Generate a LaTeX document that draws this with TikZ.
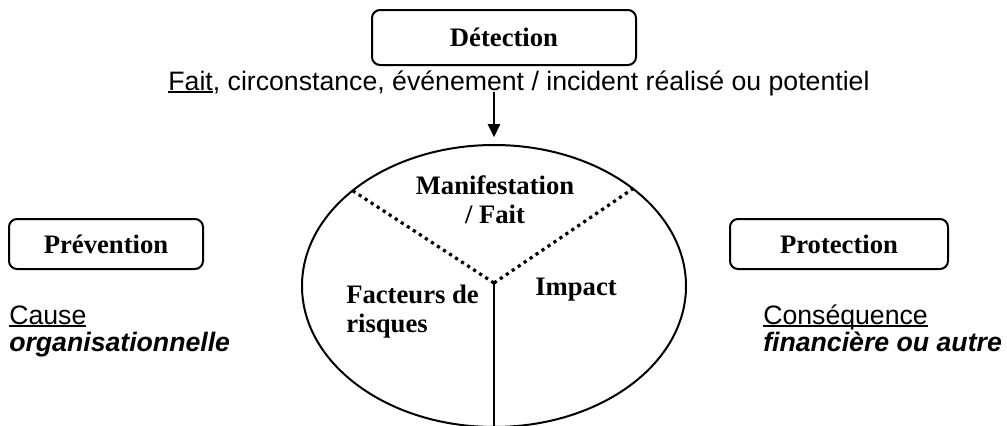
\documentclass[tikz,border=0pt]{standalone}
\usepackage{fontspec}
\setmainfont{Liberation Serif}
\setsansfont{Liberation Sans}
\usetikzlibrary{shapes.geometric,arrows.meta}

% underline set close under the baseline
\newcommand\ulword[1]{\setbox0\hbox{#1}\rlap{\rule[-2.4pt]{\wd0}{1.3pt}}\box0}

\tikzset{
  phase/.style={draw, line width=1.5pt, rounded corners=6pt,
    font=\fontsize{20}{24}\selectfont\bfseries, inner sep=0pt},
  zone/.style={font=\fontsize{20}{21.5}\selectfont\bfseries, inner sep=0pt},
  note/.style={font=\fontsize{20}{20.25}\selectfont\sffamily, inner sep=0pt, align=left},
  divider/.style={line width=2.4pt, dash pattern=on 2.4pt off 3pt},
}

\begin{document}
\begin{tikzpicture}[x=0.75pt, y=-0.75pt]
  \useasboundingbox (0,0) rectangle (1007,425);

  % three phases of the risk treatment
  \node[phase, minimum width=198pt, minimum height=41.25pt] (detect) at (504,37.5) {Détection};
  \node[phase, minimum width=145.5pt, minimum height=37.5pt] (prev) at (106,244) {Prévention};
  \node[phase, minimum width=163.5pt, minimum height=37.5pt] (prot) at (839,244) {Protection};

  % description line under the detection phase
  \node[note, anchor=base] (fact) at (519,90)
    {\ulword{Fait}, circonstance, événement / incident réalisé ou potentiel};

  % the risk itself
  \node[draw, line width=1.5pt, ellipse, minimum width=288pt, minimum height=211.5pt,
        inner sep=0pt] (risk) at (494,286) {};
  \coordinate (hub) at (494,283);
  \coordinate (arrowstart) at (494,92);

  \draw[line width=2.2pt, -{Triangle[width=9pt,length=10pt]}, shorten >=5pt]
    (arrowstart) -- (risk.north);

  \draw[divider] (hub) -- (risk.146);
  \draw[divider] (hub) -- (risk.35);
  \draw[line width=1.5pt] (hub) -- (risk.south);

  % sectors of the risk (anchored on the baseline of their last line)
  \node[zone, align=center, anchor=base] (manif) at (495,223) {Manifestation\\/ Fait};
  \node[zone, align=left, anchor=base west] (factors) at (346,332) {Facteurs de\\risques};
  \node[zone, anchor=base west] (impact) at (535,295) {Impact};

  % causes and consequences
  \node[note, anchor=base west] (cause) at (9,351)
    {\ulword{Cause}\\\textbf{\textit{organisationnelle}}};
  \node[note, anchor=base west] (cons) at (763,351)
    {\ulword{Conséquence}\\\textbf{\textit{financière ou autre}}};
\end{tikzpicture}
\end{document}
